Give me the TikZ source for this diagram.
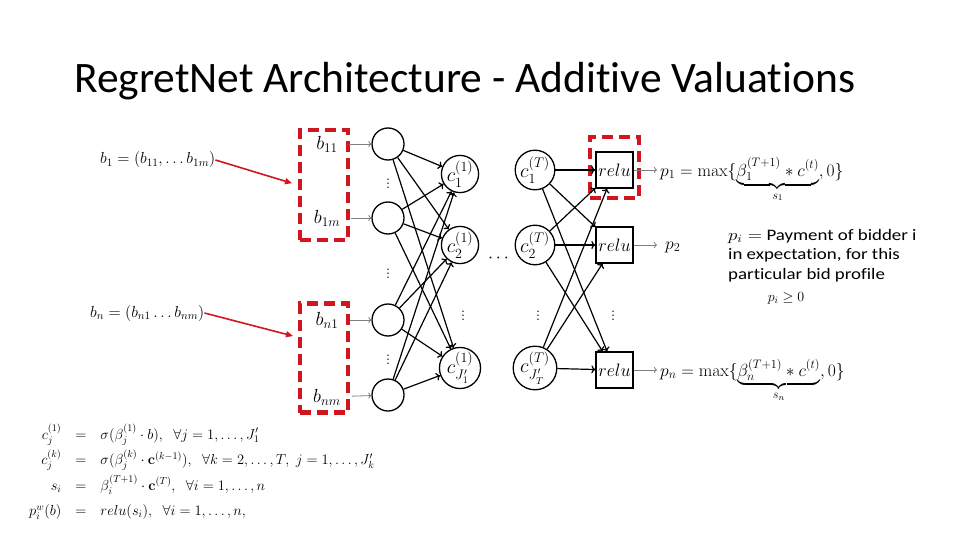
\RequirePackage{fix-cm}
\documentclass[tikz,border=0pt]{standalone}
\usepackage{amsmath}
\usepackage[no-math]{fontspec}
\newfontfamily\calibri[Ligatures=NoCommon]{Carlito}
\usetikzlibrary{arrows.meta}
\definecolor{redc}{RGB}{208,22,30}
\begin{document}
\begin{tikzpicture}[x=1pt,y=-1pt,
  neuron/.style={circle,draw,line width=1.3pt,minimum size=32pt,inner sep=0pt},
  hid/.style={circle,draw,line width=1.3pt,minimum size=37pt,inner sep=0pt,font=\fontsize{20}{20}\selectfont},
  relubox/.style={rectangle,draw,line width=1.3pt,minimum width=37pt,minimum height=36pt,inner sep=0pt,font=\fontsize{18}{18}\selectfont},
  conn/.style={line width=1.2pt,-{To[length=4pt,width=8pt]}},
  redbox/.style={draw=redc,line width=4.5pt,dash pattern=on 11pt off 6pt,inner sep=0pt},
  graya/.style={draw=gray,line width=0.8pt,-{To[length=3pt,width=6pt]}},
  reda/.style={draw=redc,line width=1.6pt,-{Triangle[length=7pt,width=6pt]}},
  blab/.style={font=\fontsize{19}{19}\selectfont,inner sep=1pt},
  vdot/.style={font=\fontsize{18}{18}\selectfont,inner sep=0pt},
  outp/.style={anchor=base west,font=\fontsize{17.5}{17.5}\selectfont,inner sep=0pt}
]
\useasboundingbox (0,0) rectangle (960,540);

% title
\node[anchor=west,inner sep=0pt,font=\calibri\fontsize{43.5}{43.5}\selectfont] (title) at (74,81) {RegretNet Architecture - Additive Valuations};

% left bid vectors
\node[anchor=west,inner sep=0pt,font=\fontsize{16}{16}\selectfont] (bone) at (100,160) {$b_1=(b_{11},\ldots b_{1m})$};
\node[anchor=west,inner sep=0pt,font=\fontsize{16}{16}\selectfont] (bn) at (90,313) {$b_n=(b_{n1}\ldots b_{nm})$};

% red dashed boxes
\node[redbox,minimum width=48pt,minimum height=110pt] (box1) at (324,185) {};
\node[redbox,minimum width=48pt,minimum height=109pt] (box2) at (324,358) {};
\node[redbox,minimum width=49pt,minimum height=61pt] (box3) at (614.5,167.5) {};
\coordinate (bnt) at (293,336);

\draw[reda,shorten >=6pt] (bone.east) -- (box1.west);
\draw[reda] (bn.east) -- (bnt);

% input labels
\node[blab] (lb11) at (327,144) {$b_{11}$};
\node[blab] (lb1m) at (327,218) {$b_{1m}$};
\node[blab] (lbn1) at (327,320) {$b_{n1}$};
\node[blab] (lbnm) at (327,397) {$b_{nm}$};

% input neurons
\node[neuron] (in1) at (388,144) {};
\node[neuron] (in2) at (388,218) {};
\node[neuron] (in3) at (388,320) {};
\node[neuron] (in4) at (388,395) {};

\draw[graya,shorten <=10pt] (lb11) -- (in1);
\draw[graya,shorten <=10pt] (lb1m) -- (in2);
\draw[graya,shorten <=10pt] (lbn1) -- (in3);
\draw[graya,shorten <=10pt] (lbnm) -- (in4);

% first hidden layer
\node[hid] (h1) at (460,174) {$c_1^{(1)}$};
\node[hid] (h2) at (460,245) {$c_2^{(1)}$};
\node[hid] (h3) at (460,368) {$c_{J_1'}^{(1)}$};

% last hidden layer
\node[hid] (t1) at (535,170) {$c_1^{(T)}$};
\node[hid] (t2) at (535,245) {$c_2^{(T)}$};
\node[hid] (t3) at (535,368) {$c_{J_T'}^{(T)}$};

% relu units
\node[relubox] (r1) at (614.5,170) {$relu$};
\node[relubox] (r2) at (614.5,245) {$relu$};
\node[relubox] (r3) at (614.5,370) {$relu$};

% dots
\node[vdot] (d1) at (388,181) {$\vdots$};
\node[vdot] (d2) at (388,271) {$\vdots$};
\node[vdot] (d3) at (388,357) {$\vdots$};
\node[vdot] (d4) at (463,313) {$\vdots$};
\node[vdot] (d5) at (538,313) {$\vdots$};
\node[vdot] (d6) at (613,313) {$\vdots$};
\node[vdot] (d7) at (500,258) {$\cdots$};

% input -> first hidden
\foreach \i in {in1,in2,in3,in4}{
  \foreach \j in {h1,h2,h3}{
    \draw[conn] (\i) -- (\j);
  }
}
% last hidden -> relu
\foreach \i in {t1,t2,t3}{
  \foreach \j in {r1,r2,r3}{
    \draw[conn] (\i) -- (\j);
  }
}

% outputs
\node[outp] (o1) at (660,176) {$p_1=\max\{\underbrace{\beta_1^{(T+1)}*c^{(t)}}_{s_1},0\}$};
\node[outp] (o2) at (665,249) {$p_2$};
\node[outp] (o3) at (660,376) {$p_n=\max\{\underbrace{\beta_n^{(T+1)}*c^{(t)}}_{s_n},0\}$};
\coordinate (o1w) at (657,170);
\coordinate (o2w) at (657,245);
\coordinate (o3w) at (657,370);
\draw[graya] (r1.east) -- (o1w);
\draw[graya] (r2.east) -- (o2w);
\draw[graya] (r3.east) -- (o3w);

% description
\node[anchor=north west,align=left,inner sep=0pt,font=\calibri\fontsize{16}{19.5}\selectfont] (desc) at (728,229) {\scalebox{1.18}[1]{$p_i=$ Payment of bidder i}\\\scalebox{1.18}[1]{in expectation, for this}\\\scalebox{1.18}[1]{particular bid profile}};
\node[inner sep=0pt,font=\fontsize{14}{14}\selectfont] (pos) at (786,298) {$p_i\geq 0$};

% equations
\node[anchor=north west,inner sep=0pt,font=\fontsize{14.5}{17}\selectfont] (eqs) at (22,421) {%
$\renewcommand{\arraystretch}{1.5}\setlength{\arraycolsep}{7pt}%
\begin{array}{rcl}
c_j^{(1)} &=& \sigma(\beta_j^{(1)}\cdot b),\;\;\forall j=1,\ldots,J_1'\\
c_j^{(k)} &=& \sigma(\beta_j^{(k)}\cdot \mathbf{c}^{(k-1)}),\;\;\forall k=2,\ldots,T,\; j=1,\ldots,J_k'\\
s_i &=& \beta_i^{(T+1)}\cdot\mathbf{c}^{(T)},\;\;\forall i=1,\ldots,n\\
p_i^w(b) &=& relu(s_i),\;\;\forall i=1,\ldots,n,
\end{array}$};
\end{tikzpicture}
\end{document}
